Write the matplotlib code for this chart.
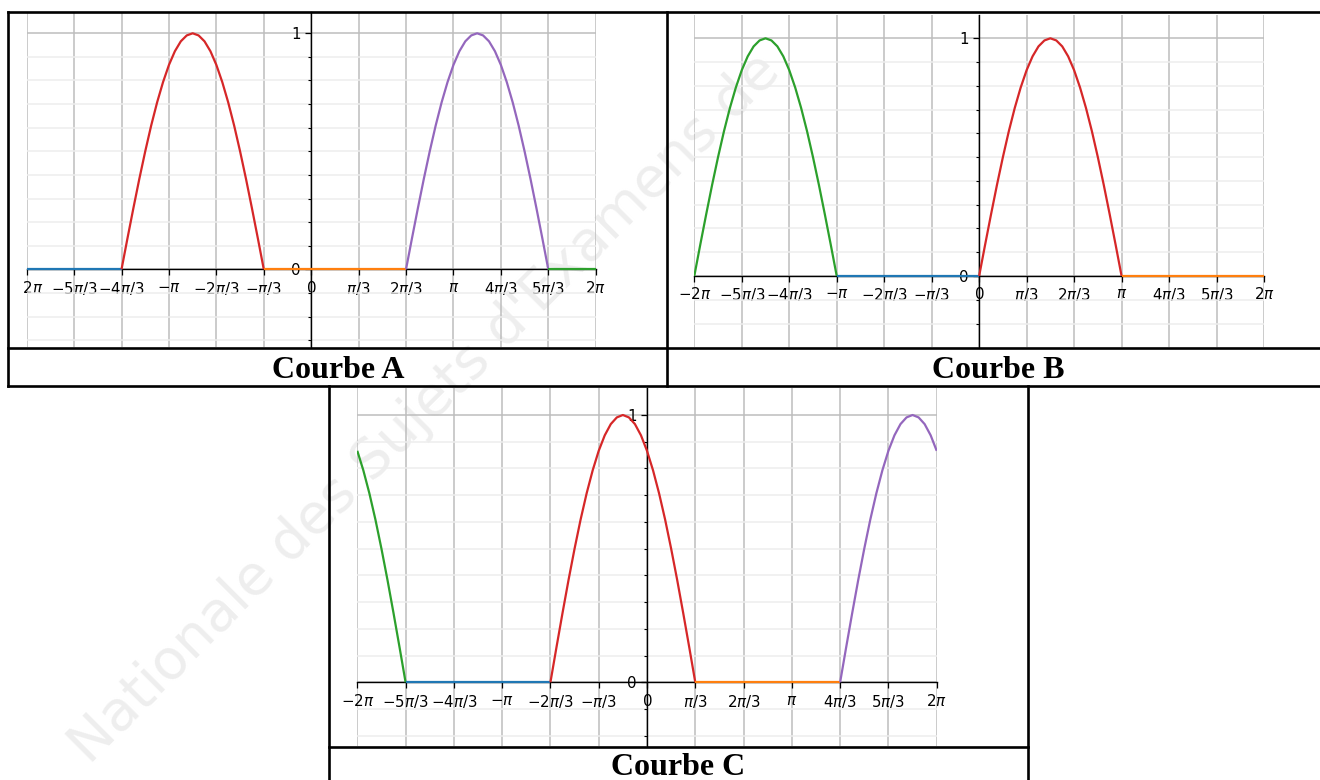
import numpy as np
import matplotlib
matplotlib.use("Agg")
import matplotlib.pyplot as plt
from matplotlib.ticker import MultipleLocator
from matplotlib.lines import Line2D
from matplotlib.transforms import Bbox, TransformedBbox

W, H = 1320, 780
PI3 = np.pi / 3  # x data are given in units of pi/3

# ---------------- data ----------------
tick_units = [-6, -5, -4, -3, -2, -1, 0, 1, 2, 3, 4, 5, 6]
tick_labels = [r"$-2\pi$", r"$-5\pi/3$", r"$-4\pi/3$", r"$-\pi$", r"$-2\pi/3$",
               r"$-\pi/3$", r"$0$", r"$\pi/3$", r"$2\pi/3$", r"$\pi$",
               r"$4\pi/3$", r"$5\pi/3$", r"$2\pi$"]
ytick_vals = [0, 1]
ytick_labels = ["0", "1"]
panel_titles = ["Courbe A", "Courbe B", "Courbe C"]
watermark = "Nationale des Sujets d'Examens de"

# sample spacing of the read curves (units of pi/3)
STEP = 1 / 8

# arch every pi/24
arch_y = [0.000, 0.131, 0.259, 0.383, 0.500, 0.609, 0.707, 0.793, 0.866, 0.924,
          0.966, 0.991, 1.000, 0.991, 0.966, 0.924, 0.866, 0.793, 0.707, 0.609,
          0.500, 0.383, 0.259, 0.131, 0.000]

# Courbe A
a_blue_x, a_blue_y = [-6, -4], [0, 0]
a_red_start, a_red_y = -4, arch_y
a_orange_x, a_orange_y = [-1, 2], [0, 0]
a_purple_start, a_purple_y = 2, arch_y
a_green_x, a_green_y = [5, 6], [0, 0]

# Courbe B
b_green_start, b_green_y = -6, arch_y
b_blue_x, b_blue_y = [-3, 0], [0, 0]
b_red_start, b_red_y = 0, arch_y
b_orange_x, b_orange_y = [3, 6], [0, 0]

# Courbe C
c_green_start = -6
c_green_y = [0.866, 0.793, 0.707, 0.609, 0.500, 0.383, 0.259, 0.131, 0.000]
c_blue_x, c_blue_y = [-5, -2], [0, 0]
c_red_start, c_red_y = -2, arch_y
c_orange_x, c_orange_y = [1, 4], [0, 0]
c_purple_start = 4
c_purple_y = [0.000, 0.131, 0.259, 0.383, 0.500, 0.609, 0.707, 0.793, 0.866, 0.924,
              0.966, 0.991, 1.000, 0.991, 0.966, 0.924, 0.866]

BLUE, ORANGE, GREEN, RED, PURPLE = "#1f77b4", "#ff7f0e", "#2ca02c", "#d62728", "#9467bd"

# ---------------- figure ----------------
fig = plt.figure(figsize=(W / 100, H / 100), dpi=100)
fig.patch.set_facecolor("white")


def px_axes(x_left, x_right, y_zero, y_one, y_top, y_bot):
    """axes whose x range [-2pi, 2pi] spans x_left..x_right pixels."""
    ax = fig.add_axes([x_left / W, 1 - y_bot / H, (x_right - x_left) / W, (y_bot - y_top) / H])
    unit = y_zero - y_one
    ax.set_xlim(-2 * np.pi, 2 * np.pi)
    ax.set_ylim(-(y_bot - y_zero) / unit, (y_zero - y_top) / unit)
    ax.patch.set_visible(False)
    for s in ("top", "right"):
        ax.spines[s].set_visible(False)
    ax.spines["left"].set_position(("data", 0))
    ax.spines["bottom"].set_position(("data", 0))
    for s in ("left", "bottom"):
        ax.spines[s].set_linewidth(1.0)
        ax.spines[s].set_color("black")
    ax.set_xticks([k * PI3 for k in tick_units])
    ax.set_xticklabels(tick_labels)
    ax.set_yticks(ytick_vals)
    ax.set_yticklabels(ytick_labels)
    ax.yaxis.set_minor_locator(MultipleLocator(0.1))
    ax.tick_params(which="major", direction="out", length=4.5, width=0.9,
                   labelsize=10.8, colors="black", pad=3)
    ax.tick_params(which="minor", direction="out", length=2.5, width=0.8, colors="black")
    ax.set_axisbelow(True)
    ax.grid(which="major", color="#bdbdbd", linewidth=1.1)
    ax.grid(which="minor", axis="y", color="#ededed", linewidth=1.1)
    return ax


def plot_arch(ax, start, ys, color):
    xs = [(start + i * STEP) * PI3 for i in range(len(ys))]
    ax.plot(xs, ys, color=color, lw=1.6, solid_capstyle="butt",
            solid_joinstyle="round", zorder=3)


def plot_flat(ax, xs, ys, color):
    ax.plot([x * PI3 for x in xs], ys, color=color, lw=1.6, solid_capstyle="butt", zorder=3)


# watermark (behind everything)
fig.text(90 / W, 1 - 766 / H, watermark,
         rotation=45, rotation_mode="anchor", ha="left", va="baseline",
         fontsize=40, family="DejaVu Sans", color="#eeeeee", zorder=-1)

# Courbe A
axA = px_axes(26.7, 595.7, 269.3, 33.3, 12, 347)
plot_flat(axA, a_blue_x, a_blue_y, BLUE)
plot_arch(axA, a_red_start, a_red_y, RED)
plot_flat(axA, a_orange_x, a_orange_y, ORANGE)
plot_arch(axA, a_purple_start, a_purple_y, PURPLE)
plot_flat(axA, a_green_x, a_green_y, GREEN)
clipA = TransformedBbox(Bbox.from_extents(23.5 / W, 0, 1, 1), fig.transFigure)
for lab in axA.get_xticklabels():
    lab.set_clip_box(clipA)
    lab.set_clip_on(True)

# Courbe B
axB = px_axes(694.3, 1264, 276, 38.3, 15, 347)
plot_arch(axB, b_green_start, b_green_y, GREEN)
plot_flat(axB, b_blue_x, b_blue_y, BLUE)
plot_arch(axB, b_red_start, b_red_y, RED)
plot_flat(axB, b_orange_x, b_orange_y, ORANGE)

# Courbe C
axC = px_axes(357.3, 936.7, 682.3, 415, 388.3, 746)
plot_arch(axC, c_green_start, c_green_y, GREEN)
plot_flat(axC, c_blue_x, c_blue_y, BLUE)
plot_arch(axC, c_red_start, c_red_y, RED)
plot_flat(axC, c_orange_x, c_orange_y, ORANGE)
plot_arch(axC, c_purple_start, c_purple_y, PURPLE)


# table borders
def hline(y, x0, x1):
    fig.add_artist(Line2D([x0 / W, x1 / W], [1 - y / H, 1 - y / H], color="black",
                          lw=1.9, solid_capstyle="projecting", zorder=5))


def vline(x, y0, y1):
    fig.add_artist(Line2D([x / W, x / W], [1 - y0 / H, 1 - y1 / H], color="black",
                          lw=1.9, solid_capstyle="projecting", zorder=5))


hline(12, 8, 1320)
hline(348, 8, 1320)
hline(385.5, 8, 1320)
vline(8, 12, 385.5)
vline(666.5, 12, 385.5)
vline(328.5, 385.5, 780)
vline(1027.5, 385.5, 780)
hline(746.5, 328.5, 1027.5)

# panel titles
title_pos = [(338.5, 378), (998, 378), (678.5, 775)]
for t, (x, y) in zip(panel_titles, title_pos):
    fig.text(x / W, 1 - y / H, t, ha="center", va="baseline", family="Liberation Serif",
             fontweight="bold", fontsize=23, color="black", zorder=6)

fig.savefig("out.png", dpi=100, facecolor="white")
